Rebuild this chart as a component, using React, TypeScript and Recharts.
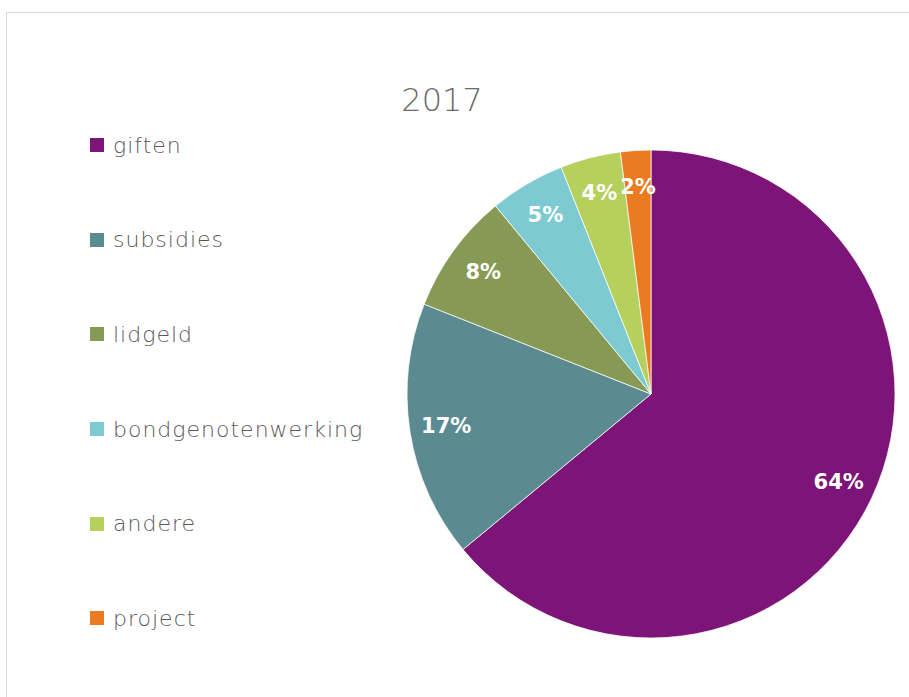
import React from 'react';
import { PieChart, Pie, Cell } from 'recharts';

const categories = ['giften', 'subsidies', 'lidgeld', 'bondgenotenwerking', 'andere', 'project'];
const shares = [64, 17, 8, 5, 4, 2];
const colors = ['#7C1577', '#5B8B91', '#869A56', '#7ECAD3', '#B6D05E', '#EA7B20'];
const title = '2017';

const data = categories.map((name, i) => ({ name, value: shares[i] }));

const RADIAN = Math.PI / 180;

const renderLabel = (props: any) => {
  const { cx, cy, midAngle, outerRadius, value } = props;
  const r = outerRadius * 0.85;
  const x = cx + r * Math.cos(-midAngle * RADIAN);
  const y = cy + r * Math.sin(-midAngle * RADIAN);
  return (
    <text
      x={x}
      y={y}
      fill="#ffffff"
      textAnchor="middle"
      dominantBaseline="central"
      fontFamily="DejaVu Sans"
      fontWeight="bold"
      fontSize={21}
    >
      {`${value}%`}
    </text>
  );
};

export default function App() {
  return (
    <div
      style={{
        position: 'absolute',
        left: 0,
        top: 0,
        width: 909,
        height: 697,
        overflow: 'hidden',
        background: '#ffffff',
      }}
    >
      <div
        style={{
          position: 'absolute',
          left: 6,
          top: 12,
          width: 1000,
          height: 1000,
          border: '1px solid #d9d9d9',
          boxSizing: 'border-box',
        }}
      />
      <div
        style={{
          position: 'absolute',
          left: 0,
          top: 82,
          width: 884,
          textAlign: 'center',
          fontFamily: 'DejaVu Sans',
          fontWeight: 200,
          fontSize: 32,
          color: '#6a6a6a',
          lineHeight: '36px',
        }}
      >
        {title}
      </div>
      <div style={{ position: 'absolute', left: 0, top: 0 }}>
        <PieChart width={909} height={697} margin={{ top: 0, right: 0, bottom: 0, left: 0 }}>
          <Pie
            data={data}
            dataKey="value"
            nameKey="name"
            cx={651}
            cy={394}
            outerRadius={244}
            startAngle={90}
            endAngle={-270}
            stroke="#ffffff"
            strokeWidth={0.75}
            label={renderLabel}
            labelLine={false}
            isAnimationActive={false}
          >
            {data.map((d, i) => (
              <Cell key={d.name} fill={colors[i]} />
            ))}
          </Pie>
        </PieChart>
      </div>
      <div
        style={{
          position: 'absolute',
          left: 90,
          top: 98,
          width: 320,
          fontFamily: 'DejaVu Sans',
          fontWeight: 200,
        }}
      >
        {categories.map((name, i) => (
          <div key={name} style={{ height: 94.6, display: 'flex', alignItems: 'center' }}>
            <span
              style={{
                width: 14,
                height: 14,
                background: colors[i],
                display: 'inline-block',
                marginRight: 9,
              }}
            />
            <span style={{ fontSize: 22, color: '#595959', letterSpacing: 1 }}>{name}</span>
          </div>
        ))}
      </div>
    </div>
  );
}
